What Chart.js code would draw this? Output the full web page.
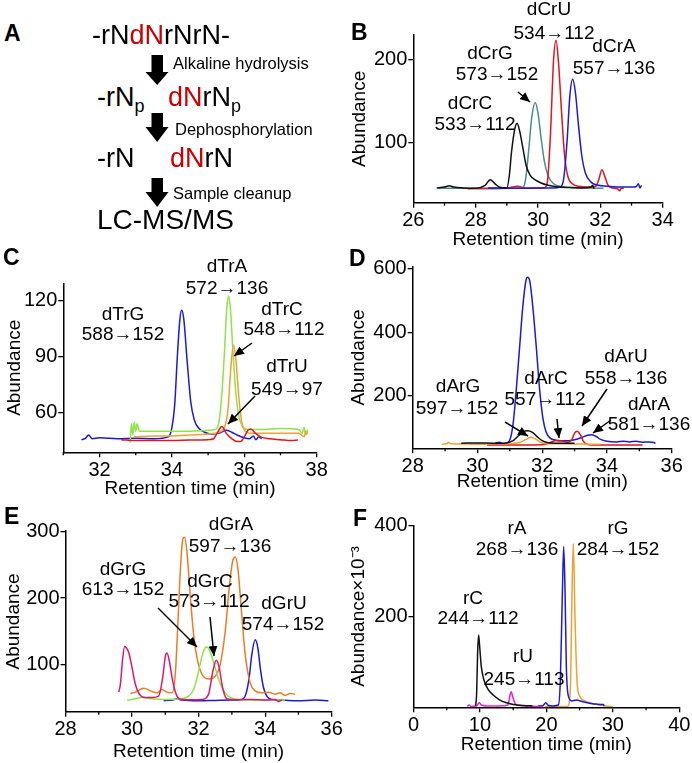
<!DOCTYPE html>
<html><head><meta charset="utf-8">
<script src="https://cdn.jsdelivr.net/npm/chart.js@4.4.1/dist/chart.umd.min.js"></script>
<style>
html,body{margin:0;padding:0;background:#fff;}
#page{position:relative;width:692px;height:763px;overflow:hidden;font-family:"Liberation Sans",Arial,sans-serif;color:#000;background:#fff;}
canvas{position:absolute;}
.t{position:absolute;white-space:nowrap;line-height:1;transform:translate(-50%,-50%);font-size:19px;}
.l{position:absolute;white-space:nowrap;line-height:1;transform:translate(0,-50%);}
.pl{position:absolute;font-weight:bold;font-size:23px;line-height:1;transform:translate(0,-50%);}
.red{color:#cc0000;}
.sub{position:relative;top:0.32em;font-size:18px;}
svg{position:absolute;left:0;top:0;}
</style></head><body><div id="page">
<canvas id="cB"></canvas><canvas id="cC"></canvas><canvas id="cD"></canvas><canvas id="cE"></canvas><canvas id="cF"></canvas>

<div class="pl" style="left:4px;top:33px">A</div>
<div class="pl" style="left:351px;top:32px">B</div>
<div class="pl" style="left:3px;top:257px">C</div>
<div class="pl" style="left:349px;top:258px">D</div>
<div class="pl" style="left:4px;top:516px">E</div>
<div class="pl" style="left:353px;top:518px">F</div>

<div class="l" style="left:92px;top:35px;font-size:27px">-rN<span class="red">dN</span>rNrN-</div>
<div class="l" style="left:173px;top:63px;font-size:16.5px">Alkaline hydrolysis</div>
<div class="l" style="left:97px;top:97px;font-size:27px">-rN<span class="sub">p</span></div>
<div class="l" style="left:168px;top:97px;font-size:27px"><span class="red">dN</span>rN<span class="sub">p</span></div>
<div class="l" style="left:175px;top:129px;font-size:16.5px">Dephosphorylation</div>
<div class="l" style="left:97px;top:158px;font-size:27px">-rN</div>
<div class="l" style="left:170px;top:158px;font-size:27px"><span class="red">dN</span>rN</div>
<div class="l" style="left:173px;top:193px;font-size:16.5px">Sample cleanup</div>
<div class="l" style="left:97px;top:220px;font-size:28px">LC-MS/MS</div>

<div class="t" style="left:549px;top:8px">dCrU</div>
<div class="t" style="left:554px;top:32px">534→112</div>
<div class="t" style="left:490px;top:52px">dCrG</div>
<div class="t" style="left:497px;top:73px">573→152</div>
<div class="t" style="left:470px;top:102px">dCrC</div>
<div class="t" style="left:475px;top:123px">533→112</div>
<div class="t" style="left:614px;top:45px">dCrA</div>
<div class="t" style="left:614px;top:67px">557→136</div>

<div class="t" style="left:227px;top:265px">dTrA</div>
<div class="t" style="left:227px;top:287px">572→136</div>
<div class="t" style="left:123px;top:313px">dTrG</div>
<div class="t" style="left:123px;top:333px">588→152</div>
<div class="t" style="left:282px;top:308px">dTrC</div>
<div class="t" style="left:284px;top:328px">548→112</div>
<div class="t" style="left:287px;top:365px">dTrU</div>
<div class="t" style="left:287px;top:388px">549→97</div>

<div class="t" style="left:458px;top:385px">dArG</div>
<div class="t" style="left:457px;top:407px">597→152</div>
<div class="t" style="left:546px;top:377px">dArC</div>
<div class="t" style="left:545px;top:398px">557→112</div>
<div class="t" style="left:626px;top:355px">dArU</div>
<div class="t" style="left:626px;top:377px">558→136</div>
<div class="t" style="left:649px;top:403px">dArA</div>
<div class="t" style="left:649px;top:423px">581→136</div>

<div class="t" style="left:231px;top:523px">dGrA</div>
<div class="t" style="left:230px;top:545px">597→136</div>
<div class="t" style="left:123px;top:568px">dGrG</div>
<div class="t" style="left:123px;top:588px">613→152</div>
<div class="t" style="left:210px;top:580px">dGrC</div>
<div class="t" style="left:209px;top:600px">573→112</div>
<div class="t" style="left:284px;top:602px">dGrU</div>
<div class="t" style="left:283px;top:623px">574→152</div>

<div class="t" style="left:517px;top:527px">rA</div>
<div class="t" style="left:517px;top:548px">268→136</div>
<div class="t" style="left:618px;top:527px">rG</div>
<div class="t" style="left:618px;top:548px">284→152</div>
<div class="t" style="left:473px;top:597px">rC</div>
<div class="t" style="left:478px;top:617px">244→112</div>
<div class="t" style="left:523px;top:655px">rU</div>
<div class="t" style="left:524px;top:678px">245→113</div>

<svg width="692" height="763" viewBox="0 0 692 763">
<defs><marker id="ah" markerUnits="userSpaceOnUse" markerWidth="10" markerHeight="9" refX="10" refY="4.5" orient="auto"><path d="M0,0 L10,4.5 L0,9 z" fill="#000"/></marker></defs>
<g fill="#000">
<polygon points="151.5,55 163,55 163,72 168.5,72 157.2,85 145.5,72 151.5,72"/>
<polygon points="151.5,113 163,113 163,127 168.5,127 157.2,142 145.5,127 151.5,127"/>
<polygon points="151.5,178 163,178 163,192 168.5,192 157.2,207 145.5,192 151.5,192"/>
</g>
<g stroke="#000" stroke-width="1.5" marker-end="url(#ah)">
<line x1="518" y1="92" x2="530" y2="102"/>
<line x1="252" y1="343" x2="234" y2="356"/>
<line x1="255" y1="396" x2="228" y2="424"/>
<line x1="505" y1="422" x2="528" y2="436"/>
<line x1="557" y1="419" x2="559" y2="438"/>
<line x1="607" y1="389" x2="582" y2="426"/>
<line x1="611" y1="420" x2="593" y2="433"/>
<line x1="158" y1="608" x2="197" y2="647"/>
<line x1="210" y1="617" x2="214" y2="656"/>
</g>
</svg>
</div>
<script>
// ---------- Panel B: dCrN ----------
const xTicksB = [26, 28, 30, 32, 34];
const xMinorB = [27, 29, 31, 33];
const yTicksB = [100, 200];
const tB_dCrC = [26.75,27.0,27.15,27.3,27.6,28.0,28.3,28.47,28.65,28.8,29.0,29.08,29.15,29.25,29.33,29.42,29.52,29.62,29.75,29.9,30.1,30.3,30.6,31.0,31.4,31.7,31.75,31.8];
const vB_dCrC = [45,46,47.5,46,45,44.5,48,55,49,45.5,45,60,88,115,123,112,92,72,60,55,51,48.5,46.5,45.5,45,46,48,44];
const tB_dCrG = [26.8,27.5,28.5,29.2,29.5,29.6,29.7,29.8,29.91,30.0,30.1,30.2,30.32,30.5,30.8,31.2,31.6,32.1];
const vB_dCrG = [44.5,44.5,44,44.5,45,55,90,130,148,135,105,78,60,50,46.5,45.5,45,44.5];
const tB_dCrU = [27.75,28.3,29.0,29.35,29.6,30.0,30.2,30.3,30.4,30.5,30.58,30.66,30.75,30.85,30.95,31.1,31.3,31.6,31.85,31.95,32.05,32.15,32.25,32.4,32.55,32.62,32.68,32.75];
const vB_dCrU = [44,44.5,45,47,45,45,45,52,110,200,223,195,140,85,60,50,47,46,47,55,67,58,48,45,44,41.5,45,44.5];
const tB_dCrA = [28.4,29.0,29.5,30.0,30.5,30.7,30.82,30.93,31.02,31.11,31.2,31.3,31.4,31.52,31.7,31.9,32.2,32.6,33.0,33.15,33.22,33.27,33.32];
const vB_dCrA = [45,45,44.5,45,45,46,55,100,155,176,160,120,85,63,52,48.5,47,46,46,46.5,50,45,48];

// ---------- Panel C: dTrN ----------
const xTicksC = [32, 34, 36, 38];
const xMinorC = [31, 33, 35, 37];
const yTicksC = [60, 90, 120];
const tC_dTrG = [31.5,31.6,31.7,31.8,32.0,32.5,33.0,33.5,33.9,34.0,34.08,34.15,34.22,34.27,34.33,34.42,34.52,34.62,34.75,34.9,35.1,35.3,35.5,35.65,35.8,36.0,36.15,36.25,36.32,36.4,36.48];
const vC_dTrG = [45.5,46,48,46,46.5,46,46.3,46,47,52,65,90,110,115,110,88,66,56,51.5,49.5,48.5,49,50.5,49.5,48,46.5,46,47.5,45.5,47,46];
const tC_dTrA = [32.85,32.88,32.92,32.96,33.0,33.04,33.1,33.5,34.0,34.5,35.0,35.2,35.3,35.38,35.45,35.52,35.57,35.62,35.68,35.76,35.85,35.95,36.1,36.5,37.0,37.5,37.6,37.65,37.7,37.75];
const vC_dTrA = [44,54,48,55,50,54,50,50,50,50,50.5,51,55,70,92,117,122.7,115,95,72,58,52.5,51,51,51.5,51,49,52,48,51];
const tC_dTrC = [32.95,33.5,34.0,34.5,35.0,35.3,35.45,35.55,35.62,35.7,35.77,35.85,35.93,36.02,36.15,36.5,37.0,37.5,37.65,37.7,37.75];
const vC_dTrC = [47,47.5,47.5,48,48.5,49.5,52,62,82,96.4,88,68,55,50,49,49,49,49,47,50,48.5];
const tC_dTrU = [32.6,33.0,33.5,34.0,34.5,35.0,35.15,35.25,35.38,35.5,35.65,35.8,35.9,36.0,36.1,36.18,36.3,36.45,36.7,37.0,37.3,37.48];
const vC_dTrU = [45.5,45,45,45,45.3,45.5,46,49,52.5,49,46,44.5,44.5,47,50.5,51.2,49,47,46,45.5,45,45.3];

// ---------- Panel D: dArN ----------
const xTicksD = [28, 30, 32, 34, 36];
const xMinorD = [29, 31, 33, 35];
const yTicksD = [200, 400, 600];
const tD_dArA = [30.55,30.68,30.78,30.9,31.0,31.1,31.2,31.3,31.4,31.5,31.55,31.62,31.72,31.82,31.92,32.02,32.12,32.25,32.4,32.6,32.8,33.0,33.2,33.4,33.52,33.65,33.8,34.0,34.3,34.5,34.7,34.9,35.1,35.3,35.45,35.5];
const vD_dArA = [50,53,49,51,60,110,220,350,480,565,574,560,470,350,220,130,85,66,60,58,58,61,67,75,77,72,62,56,54,56,54,56,53,54,52,50];
const tD_dArG = [29.5,30.0,30.5,30.9,31.1,31.25,31.4,31.55,31.7,31.85,32.0,32.15,32.4,32.7,33.0];
const vD_dArG = [50,51,50,51,58,72,85,89,84,70,58,52,50,50,49.5];
const tD_dArC = [28.9,29.05,29.1,29.18,29.5,30.0,30.5,31.0,31.3,31.5,31.65,31.8,31.95,32.15,32.5,33.0,33.5,33.8];
const vD_dArC = [47,48,53,48,47.5,47,48,49,52,62,69,63,53,48,48,47.5,47,47];
const tD_dArU = [30.3,31.0,31.5,32.0,32.25,32.4,32.6,32.8,32.92,33.0,33.08,33.17,33.28,33.4,33.7,34.2,34.7,35.1];
const vD_dArU = [44,44,44.5,45,52,58,57,53,62,82,88,78,55,46,44,44,44,44];

// ---------- Panel E: dGrN ----------
const xTicksE = [28, 30, 32, 34, 36];
const xMinorE = [29, 31, 33, 35];
const yTicksE = [100, 200, 300];
const tE_dGrG = [29.6,29.65,29.72,29.78,29.84,29.9,29.98,30.1,30.25,30.4,30.6,30.8,30.92,31.0,31.05,31.12,31.22,31.35,31.5,31.8,32.1,32.3,32.43,32.53,32.62,32.72,32.85,33.2,33.6,34.0,34.3,34.4,34.5];
const vE_dGrG = [58,70,110,127,124,118,100,70,53,50,50,52,80,112,117,105,75,52,47,46.5,47,55,90,106,95,65,48,46.5,47,46,47,44,46];
const tE_dGrA = [29.95,30.1,30.35,30.55,30.75,30.9,31.05,31.2,31.3,31.38,31.46,31.53,31.58,31.65,31.74,31.84,31.95,32.1,32.3,32.5,32.65,32.8,32.92,33.02,33.1,33.18,33.28,33.4,33.55,33.7,33.9,34.1,34.3,34.45,34.6,34.75,34.9];
const vE_dGrA = [56,58,64,60,57,62,58,57,85,165,250,290,292,270,210,150,110,85,78,82,100,150,215,255,262,245,185,115,72,60,57,58,55,57,53,56,55];
const tE_dGrC = [29.85,30.1,30.3,30.6,31.0,31.4,31.7,31.85,31.98,32.1,32.2,32.25,32.35,32.48,32.62,32.78,32.95,33.2,33.6,34.0,34.3,34.6];
const vE_dGrC = [46,48,50,48,47,47.5,52,62,85,112,125,126,118,98,75,58,50,47,46,46,46.5,46];
const tE_dGrU = [30.95,31.2,31.35,31.5,32.0,32.5,33.0,33.3,33.42,33.52,33.6,33.7,33.78,33.86,33.95,34.05,34.2,34.5,35.0,35.5,35.9];
const vE_dGrU = [45,46,48,46,45,45.5,46,47,55,80,115,137,125,92,65,52,47,46,45,46,45];

// ---------- Panel F: rN ----------
const xTicksF = [0, 10, 20, 30, 40];
const xMinorF = [5, 15, 25, 35];
const yTicksF = [200, 400];
const tF_rC = [9.35,9.5,9.65,9.8,9.95,10.2,10.6,11.2,12.0,13.0,14.0,15.0,16.0,17.0,17.9];
const vF_rC = [3,30,120,159,135,90,60,40,27,16,10,6,4.5,3.5,3];
const tF_rU = [8.1,8.4,8.6,9.5,9.9,10.2,11.0,13.0,14.2,14.5,14.7,14.95,15.3,16.0,17.0,18.5,19.5];
const vF_rU = [2,5,2,3,10,5,3,3,5,25,34,22,8,4,3,2,2];
const tF_rA = [18.7,19.5,19.9,20.3,21.0,21.8,22.1,22.4,22.6,22.8,23.0,23.3,23.8,24.5,25.5,26.5,27.5,28.6,28.7];
const vF_rA = [3,4,10,4,3,5,60,250,354,260,90,25,14,16,12,9,7,6,3];
const tF_rG = [19.8,21.0,22.0,23.2,23.6,23.85,24.05,24.3,24.6,25.0,25.8,26.8,28.0,29.0,30.0];
const vF_rG = [1,1,1.5,2,40,250,361,200,60,25,14,9,5,3,1];

const FONT = '"Liberation Sans", Arial, sans-serif';
const minorPlugin = {
  id: 'minorTicks',
  afterDraw(chart, args, opts) {
    const xs = chart.scales.x, ctx = chart.ctx;
    ctx.save(); ctx.strokeStyle = '#000'; ctx.lineWidth = 1.3;
    (opts.values || []).forEach(v => {
      const px = xs.getPixelForValue(v);
      ctx.beginPath(); ctx.moveTo(px, xs.top); ctx.lineTo(px, xs.top + 3); ctx.stroke();
    });
    ctx.restore();
  }
};

function panel(id, box, area, xr, yr, xTicks, xMinor, yTicks, series, yTitle, xTitle, yTitleX, xTitleY) {
  const cv = document.getElementById(id);
  cv.width = box.w; cv.height = box.h;
  cv.style.left = box.x + 'px'; cv.style.top = box.y + 'px';
  cv.style.width = box.w + 'px'; cv.style.height = box.h + 'px';
  const tLH = 19 * 1.2;
  const yW = area.l - box.x;
  const xH = box.y + box.h - area.b;
  const pad = {left: 0, right: box.x + box.w - area.r, top: area.t - box.y, bottom: 0};
  const yTitlePad = yTitleX - box.x - tLH / 2;
  const xTitlePad = box.y + box.h - xTitleY - tLH / 2;
  new Chart(cv, {
    type: 'line',
    data: {datasets: series.map(s => ({
      data: s.t.map((t, i) => ({x: t, y: s.v[i]})),
      borderColor: s.c, borderWidth: 1.5, pointRadius: 0, fill: false,
      cubicInterpolationMode: 'monotone'
    }))},
    options: {
      responsive: false, animation: false, devicePixelRatio: 1,
      layout: {padding: pad},
      plugins: {legend: {display: false}, tooltip: {enabled: false}, minorTicks: {values: xMinor}},
      scales: {
        x: {
          type: 'linear', min: xr[0], max: xr[1],
          afterBuildTicks: s => { s.ticks = xTicks.map(v => ({value: v})); },
          afterFit: s => { s.height = xH; },
          grid: {drawOnChartArea: false, drawTicks: true, tickLength: 5, color: '#000', lineWidth: 1.3},
          border: {display: true, color: '#000', width: 1.5},
          ticks: {color: '#000', font: {family: FONT, size: 20}, padding: 1, maxRotation: 0, autoSkip: false},
          title: {display: true, text: xTitle, color: '#000', font: {family: FONT, size: 19, lineHeight: 1.2}, padding: {top: 0, bottom: xTitlePad}}
        },
        y: {
          type: 'linear', min: yr[0], max: yr[1],
          afterBuildTicks: s => { s.ticks = yTicks.map(v => ({value: v})); },
          afterFit: s => { s.width = yW; },
          grid: {drawOnChartArea: false, drawTicks: true, tickLength: 5, color: '#000', lineWidth: 1.3},
          border: {display: true, color: '#000', width: 1.5},
          ticks: {color: '#000', font: {family: FONT, size: 20}, padding: 1},
          title: {display: true, text: yTitle, color: '#000', font: {family: FONT, size: 19, lineHeight: 1.2}, padding: {top: yTitlePad, bottom: 0}}
        }
      }
    },
    plugins: [minorPlugin]
  });
}

const BLACK = '#111111', TEAL = '#4a8c8c', RED = '#e3141c', BLUE = '#1a1ad8',
      GREEN = '#8ee446', ORANGE = '#f2a030', ORANGE2 = '#f07a22', CRIMSON = '#e0186c', MAGENTA = '#e020e0';
const RT = 'Retention time (min)';

panel('cB', {x: 347, y: 0, w: 345, h: 252}, {l: 413.3, r: 662.7, t: 35, b: 202.7}, [26, 34], [27.2, 229.3],
  xTicksB, xMinorB, yTicksB,
  [{t: tB_dCrC, v: vB_dCrC, c: BLACK}, {t: tB_dCrA, v: vB_dCrA, c: BLUE}, {t: tB_dCrU, v: vB_dCrU, c: RED}, {t: tB_dCrG, v: vB_dCrG, c: TEAL}],
  'Abundance', RT, 360, 240);

panel('cC', {x: 0, y: 256, w: 346, h: 246}, {l: 63.3, r: 316.7, t: 283.3, b: 452.3}, [31, 38], [38.7, 129.5],
  xTicksC, xMinorC, yTicksC,
  [{t: tC_dTrU, v: vC_dTrU, c: RED}, {t: tC_dTrC, v: vC_dTrC, c: ORANGE}, {t: tC_dTrA, v: vC_dTrA, c: GREEN}, {t: tC_dTrG, v: vC_dTrG, c: BLUE}],
  'Abundance', RT, 15, 489);

panel('cD', {x: 347, y: 252, w: 345, h: 244}, {l: 412.7, r: 671.7, t: 266.7, b: 448.3}, [28, 36], [33.9, 607],
  xTicksD, xMinorD, yTicksD,
  [{t: tD_dArG, v: vD_dArG, c: BLACK}, {t: tD_dArC, v: vD_dArC, c: ORANGE}, {t: tD_dArU, v: vD_dArU, c: RED}, {t: tD_dArA, v: vD_dArA, c: BLUE}],
  'Abundance', RT, 359, 481.7);

panel('cE', {x: 0, y: 505, w: 346, h: 258}, {l: 65.5, r: 331.7, t: 531.2, b: 711.7}, [28, 36], [28.5, 301],
  xTicksE, xMinorE, yTicksE,
  [{t: tE_dGrG, v: vE_dGrG, c: CRIMSON}, {t: tE_dGrC, v: vE_dGrC, c: GREEN}, {t: tE_dGrA, v: vE_dGrA, c: ORANGE2}, {t: tE_dGrU, v: vE_dGrU, c: BLUE}],
  'Abundance', RT, 13.3, 752);

panel('cF', {x: 347, y: 505, w: 345, h: 258}, {l: 413.5, r: 679.3, t: 525.7, b: 707.3}, [0, 40], [0, 400],
  xTicksF, xMinorF, yTicksF,
  [{t: tF_rC, v: vF_rC, c: BLACK}, {t: tF_rU, v: vF_rU, c: MAGENTA}, {t: tF_rA, v: vF_rA, c: BLUE}, {t: tF_rG, v: vF_rG, c: ORANGE}],
  'Abundance\u00d710\u207b\u00b3', RT, 359, 745);
</script>
</body></html>
